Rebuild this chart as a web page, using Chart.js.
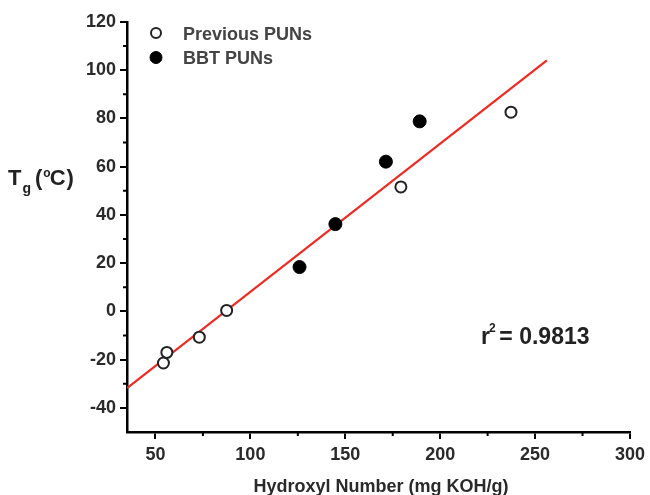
<!DOCTYPE html>
<html>
<head>
<meta charset="utf-8">
<script src="https://cdn.jsdelivr.net/npm/chart.js@4/dist/chart.umd.min.js"></script>
<style>
html,body{margin:0;padding:0;background:#fff;}
#wrap{width:650px;height:495px;}
</style>
</head>
<body>
<div id="wrap"><canvas id="c" width="650" height="495"></canvas></div>
<script>
// ---- data ----
const prevX = [54.2, 56.0, 73.1, 87.5, 179.3, 237.3];
const prevY = [-21.4, -17.0, -10.7, 0.4, 51.6, 82.6];
const bbtX = [125.9, 144.8, 171.4, 189.2];
const bbtY = [18.4, 36.2, 62.1, 78.8];
const fitX = [35, 256.2];
const fitY = [-31.8, 104.1];
const xTicks = [50, 100, 150, 200, 250, 300];
const yTicks = [-40, -20, 0, 20, 40, 60, 80, 100, 120];
const xMinor = [75, 125, 175, 225, 275];
const yMinor = [-30, -10, 10, 30, 50, 70, 90, 110];
const seriesLabels = ['Previous PUNs', 'BBT PUNs'];
const xTitle = 'Hydroxyl Number (mg KOH/g)';

const pts = (xs, ys) => xs.map((x, i) => ({x, y: ys[i]}));
const FONT = '"Liberation Sans", Arial, sans-serif';

const decor = {
  id: 'decor',
  afterDraw(chart) {
    const ctx = chart.ctx;
    const xs = chart.scales.x, ys = chart.scales.y;
    ctx.save();
    // minor ticks
    ctx.strokeStyle = '#000';
    ctx.lineWidth = 2;
    ctx.beginPath();
    xMinor.forEach(v => {
      const px = xs.getPixelForValue(v);
      ctx.moveTo(px, ys.bottom); ctx.lineTo(px, ys.bottom + 4);
    });
    yMinor.forEach(v => {
      const py = ys.getPixelForValue(v);
      ctx.moveTo(xs.left, py); ctx.lineTo(xs.left - 4, py);
    });
    ctx.stroke();

    // legend
    const ds = chart.data.datasets;
    const lx = 156, lyList = [33, 57.5];
    [0, 1].forEach(i => {
      const d = ds[i];
      ctx.beginPath();
      ctx.arc(lx, lyList[i], i === 0 ? 5 : 6, 0, Math.PI * 2);
      ctx.fillStyle = d.pointBackgroundColor;
      ctx.fill();
      ctx.lineWidth = d.pointBorderWidth;
      ctx.strokeStyle = d.pointBorderColor;
      ctx.stroke();
      ctx.fillStyle = '#444';
      ctx.font = 'bold 18px ' + FONT;
      ctx.textBaseline = 'alphabetic';
      ctx.textAlign = 'left';
      ctx.fillText(d.label, 183, lyList[i] + 6.5);
    });

    // x title
    ctx.fillStyle = '#2a2a2a';
    ctx.font = 'bold 18px ' + FONT;
    ctx.textAlign = 'center';
    ctx.textBaseline = 'middle';
    ctx.fillText(xTitle, 381, 487);

    // r^2 annotation
    ctx.textAlign = 'left';
    ctx.textBaseline = 'alphabetic';
    ctx.font = 'bold 23px ' + FONT;
    ctx.fillStyle = '#222';
    ctx.fillText('r', 481, 344);
    let x0 = 481 + ctx.measureText('r').width;
    ctx.font = 'bold 12px ' + FONT;
    ctx.fillText('2', x0 - 1, 332);
    ctx.font = 'bold 23px ' + FONT;
    ctx.fillText(' = 0.9813', x0 + 3, 344);

    // y title T_g (°C)
    let cx = 8;
    const base = 185;
    ctx.font = 'bold 22px ' + FONT;
    ctx.fillText('T', cx, base); cx += ctx.measureText('T').width + 1;
    ctx.font = 'bold 14px ' + FONT;
    ctx.fillText('g', cx, base + 8); cx += ctx.measureText('g').width + 4;
    ctx.font = 'bold 22px ' + FONT;
    ctx.fillText('(', cx, base); cx += ctx.measureText('(').width + 1;
    ctx.font = 'bold 12px ' + FONT;
    ctx.fillText('o', cx, base - 8); cx += ctx.measureText('o').width - 1;
    ctx.font = 'bold 22px ' + FONT;
    ctx.fillText('C', cx, base); cx += ctx.measureText('C').width + 1;
    ctx.fillText(')', cx, base);
    ctx.restore();
  }
};

new Chart(document.getElementById('c'), {
  type: 'scatter',
  data: {
    datasets: [
      {
        label: seriesLabels[0],
        data: pts(prevX, prevY),
        pointRadius: 5.5,
        pointHoverRadius: 5.5,
        pointBackgroundColor: '#fff',
        pointBorderColor: '#222',
        pointBorderWidth: 2,
        order: 1
      },
      {
        label: seriesLabels[1],
        data: pts(bbtX, bbtY),
        pointRadius: 6.5,
        pointHoverRadius: 6.5,
        pointBackgroundColor: '#000',
        pointBorderColor: '#000',
        pointBorderWidth: 1,
        order: 1
      },
      {
        type: 'line',
        label: 'fit',
        data: pts(fitX, fitY),
        borderColor: '#ee2a22',
        borderWidth: 2.2,
        pointRadius: 0,
        fill: false,
        order: 2
      }
    ]
  },
  options: {
    responsive: false,
    animation: false,
    events: [],
    layout: {padding: {top: 22, right: 18, left: 0, bottom: 0}},
    plugins: {legend: {display: false}, tooltip: {enabled: false}},
    scales: {
      x: {
        type: 'linear',
        min: 35, max: 300,
        afterBuildTicks: s => { s.ticks = xTicks.map(v => ({value: v})); },
        afterFit: s => { s.height = 63; },
        border: {display: true, color: '#000', width: 2.5},
        grid: {drawOnChartArea: false, drawTicks: true, tickLength: 7, color: '#000', lineWidth: 2},
        ticks: {color: '#2a2a2a', font: {family: FONT, size: 18, weight: 'bold'}, padding: 5, maxRotation: 0, autoSkip: false}
      },
      y: {
        type: 'linear',
        min: -50, max: 120,
        afterBuildTicks: s => { s.ticks = yTicks.map(v => ({value: v})); },
        afterFit: s => { s.width = 127; },
        border: {display: true, color: '#000', width: 2.5},
        grid: {drawOnChartArea: false, drawTicks: true, tickLength: 7, color: '#000', lineWidth: 2},
        ticks: {color: '#2a2a2a', font: {family: FONT, size: 18, weight: 'bold'}, padding: 4, autoSkip: false}
      }
    }
  },
  plugins: [decor]
});
</script>
</body>
</html>
